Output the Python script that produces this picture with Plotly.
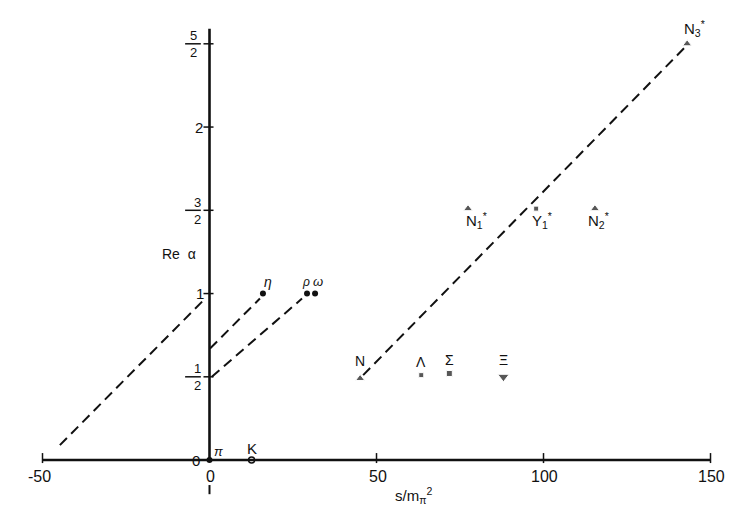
import plotly.graph_objects as go

# ---------------- data ----------------
meson_names = ["π", "K", "η", "ρ", "ω"]
meson_s = [0.0, 12.6, 16.0, 29.2, 31.6]
meson_alpha = [0.0, 0.0, 1.0, 1.0, 1.0]

octet_names = ["N", "Λ", "Σ", "Ξ"]
octet_s = [45.1, 63.4, 71.8, 88.0]
octet_alpha = [0.49, 0.51, 0.52, 0.50]

decuplet_names = ["N<sub>1</sub><sup>*</sup>", "Y<sub>1</sub><sup>*</sup>",
                  "N<sub>2</sub><sup>*</sup>", "N<sub>3</sub><sup>*</sup>"]
decuplet_s = [77.4, 97.8, 115.4, 143.0]
decuplet_alpha = [1.51, 1.51, 1.51, 2.50]

traj_left_s = [-44.8, -1.3]
traj_left_alpha = [0.09, 0.97]
traj_eta_s = [0.15, 15.1]
traj_eta_alpha = [0.67, 0.97]
traj_rho_s = [0.7, 27.7]
traj_rho_alpha = [0.50, 0.97]
traj_N_s = [46.0, 142.4]
traj_N_alpha = [0.51, 2.48]

x_tick_vals = [-50, 0, 50, 100, 150]
x_tick_labels = ["-50", "0", "50", "100", "150"]
y_tick_vals = [0.0, 0.5, 1.0, 1.5, 2.0, 2.5]
y_tick_num = ["0", "1", "1", "3", "2", "5"]
y_tick_den = [None, "2", None, "2", None, "2"]

x_title = "s/m<sub>π</sub><sup>2</sup>"
y_title = "Re  α"

# ---------------- figure ----------------
INK = "#111111"
FONT = "Liberation Sans, Arial, sans-serif"

fig = go.Figure()

dash = "10px,6px"
for xs, ys in [(traj_left_s, traj_left_alpha), (traj_eta_s, traj_eta_alpha),
               (traj_rho_s, traj_rho_alpha), (traj_N_s, traj_N_alpha)]:
    fig.add_trace(go.Scatter(x=xs, y=ys, mode="lines",
                             line=dict(color=INK, width=2, dash=dash),
                             hoverinfo="skip"))

# axes drawn as shapes in data coordinates
shapes = []
shapes.append(dict(type="line", x0=x_tick_vals[0], x1=x_tick_vals[-1], y0=0, y1=0,
                   line=dict(color=INK, width=2.6)))
shapes.append(dict(type="line", x0=0, x1=0, y0=0, y1=2.59,
                   line=dict(color=INK, width=2.6)))
for v in y_tick_vals[1:]:
    shapes.append(dict(type="line", x0=-1.8, x1=1.2, y0=v, y1=v,
                       line=dict(color=INK, width=1.5)))
for v in x_tick_vals:
    if v == 0:
        continue
    shapes.append(dict(type="line", x0=v, x1=v, y0=-0.018, y1=0.042,
                       line=dict(color=INK, width=1.5)))
shapes.append(dict(type="line", x0=0, x1=0, y0=-0.15, y1=-0.205,
                   line=dict(color=INK, width=2)))

annotations = []
# y tick labels
yshift_x = {0.0: -13.5, 0.5: -12, 1.0: -9.5, 1.5: -12.5, 2.0: -10.5, 2.5: -16}
for v, num, den in zip(y_tick_vals, y_tick_num, y_tick_den):
    xs = yshift_x[v]
    if den is None:
        annotations.append(dict(x=0, y=v, text=num, showarrow=False, xshift=xs,
                                yshift=0, font=dict(size=15, color=INK, family=FONT)))
    else:
        annotations.append(dict(x=0, y=v, text=num, showarrow=False, xshift=xs,
                                yshift=8, font=dict(size=13, color=INK, family=FONT)))
        annotations.append(dict(x=0, y=v, text=den, showarrow=False, xshift=xs,
                                yshift=-9, font=dict(size=13, color=INK, family=FONT)))
        shapes.append(dict(type="line", x0=-7.3, x1=-2.6, y0=v, y1=v,
                           line=dict(color=INK, width=1.5)))

# x tick labels
for v, t in zip(x_tick_vals, x_tick_labels):
    annotations.append(dict(x=v, y=0, text=t, showarrow=False,
                            xshift=(-3 if v < 0 else 1), yshift=-16,
                            font=dict(size=16, color=INK, family=FONT)))

# axis titles
annotations.append(dict(x=-9.0, y=1.24, text=y_title, showarrow=False,
                        font=dict(size=14, color=INK, family=FONT)))
annotations.append(dict(x=61.0, y=-0.21, text=x_title, showarrow=False,
                        font=dict(size=15, color=INK, family=FONT)))

# mesons
fig.add_trace(go.Scatter(x=meson_s[:1] + meson_s[2:], y=meson_alpha[:1] + meson_alpha[2:],
                         mode="markers", cliponaxis=False,
                         marker=dict(symbol="circle", size=6, color=INK)))
fig.add_trace(go.Scatter(x=meson_s[1:2], y=meson_alpha[1:2], mode="markers",
                         cliponaxis=False,
                         marker=dict(symbol="circle-open", size=6, color=INK,
                                     line=dict(width=1.5, color=INK))))
meson_off = [(9, 9), (0, 12), (5, 12), (-1, 12), (3, 12)]
meson_size = [13, 15, 14, 12, 13]
for n, s, a, (dx, dy), fs in zip(meson_names, meson_s, meson_alpha, meson_off, meson_size):
    annotations.append(dict(x=s, y=a, text=f"<i>{n}</i>" if n != "K" else n,
                            showarrow=False, xshift=dx, yshift=dy,
                            font=dict(size=fs, color=INK, family=FONT)))

# octet baryons
oct_symbols = ["triangle-up", "square", "square", "triangle-down"]
oct_sizes = [8, 5, 6, 10]
fig.add_trace(go.Scatter(x=octet_s, y=octet_alpha, mode="markers", cliponaxis=False,
                         marker=dict(symbol=oct_symbols, size=oct_sizes, color=INK)))
oct_off = [(0, 17), (0, 13), (0, 13), (0, 17)]
for n, s, a, (dx, dy) in zip(octet_names, octet_s, octet_alpha, oct_off):
    annotations.append(dict(x=s, y=a, text=n, showarrow=False, xshift=dx, yshift=dy,
                            font=dict(size=14, color=INK, family=FONT)))

# decuplet baryons
dec_symbols = ["triangle-up", "square", "triangle-up", "triangle-up"]
fig.add_trace(go.Scatter(x=decuplet_s, y=decuplet_alpha, mode="markers", cliponaxis=False,
                         marker=dict(symbol=dec_symbols, size=[8, 5, 8, 8], color=INK)))
dec_off = [(8, -12), (6, -12), (4, -12), (7, 15)]
for n, s, a, (dx, dy) in zip(decuplet_names, decuplet_s, decuplet_alpha, dec_off):
    annotations.append(dict(x=s, y=a, text=n, showarrow=False, xshift=dx, yshift=dy,
                            font=dict(size=15, color=INK, family=FONT)))

# the page has an 8px body margin; size and ranges compensate for it
fig.update_layout(
    width=730, height=515,
    margin=dict(l=0, r=0, t=0, b=0),
    paper_bgcolor="white", plot_bgcolor="white",
    showlegend=False,
    xaxis=dict(visible=False, range=[-60.33, 158.23], fixedrange=True),
    yaxis=dict(visible=False, range=[-0.378, 2.715], fixedrange=True),
    shapes=shapes,
    annotations=annotations,
)

fig.write_html("out.html")
